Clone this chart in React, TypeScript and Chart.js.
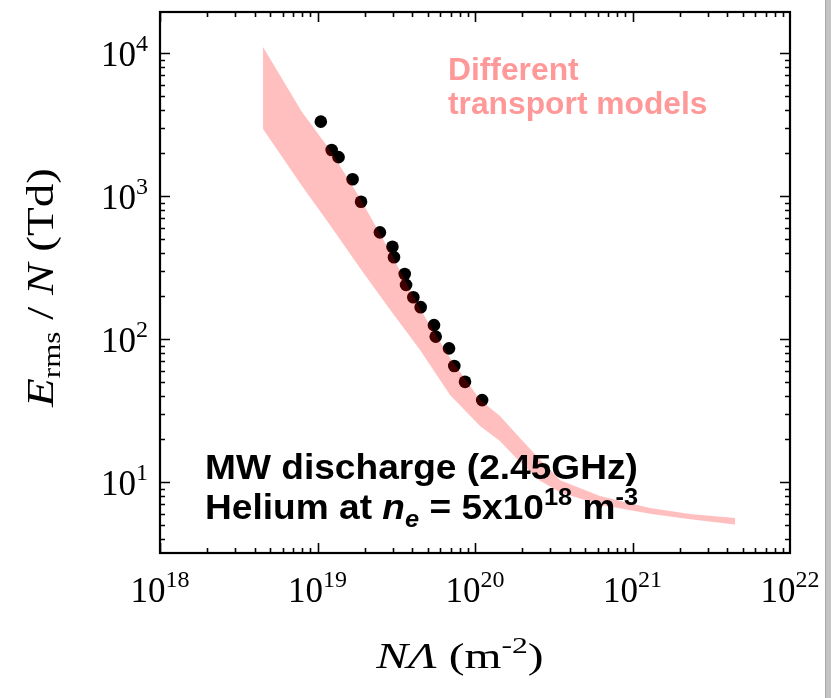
import React, { useEffect, useRef } from 'react';
import { Chart, registerables } from 'chart.js';

Chart.register(...registerables);

// Measured points: N*Lambda (m^-2) vs E_rms/N (Td)
const pointX = [1.05e19, 1.23e19, 1.36e19, 1.67e19, 1.89e19, 2.49e19, 2.99e19, 3.06e19, 3.58e19, 3.65e19, 4.06e19, 4.52e19, 5.49e19, 5.63e19, 6.84e19, 7.39e19, 8.64e19, 1.11e20];
const pointY = [3310, 2100, 1870, 1310, 912, 557, 442, 373, 285, 239, 196, 167, 125, 104, 86, 64.7, 50.2, 37.4];

// Band of different transport models
const bandX = [4.51e18, 7.97e18, 1.2e19, 1.86e19, 2.89e19, 4.48e19, 6.94e19, 1.08e20, 1.44e20, 1.93e20, 2.59e20, 3.47e20, 6.22e20, 1.29e21, 2.32e21, 4.48e21];
const bandUpper = [11000, 3870, 2100, 968, 406, 162, 73.6, 37.4, 29.0, 20.3, 14.3, 10.3, 7.98, 6.58, 5.97, 5.6];
const bandLower = [2940, 1175, 627, 314, 160, 83.8, 40.6, 24.6, 19.4, 13.8, 10.2, 8.5, 6.95, 6.0, 5.5, 5.05];

// Axes
const xMin = 1e18;
const xMax = 1e22;
const yMin = 3.19;
const yMax = 19350;
const xTickExps = [18, 19, 20, 21, 22];
const yTickExps = [1, 2, 3, 4];

type Part = { t: string; font: string; dy?: number };

function drawParts(
  ctx: CanvasRenderingContext2D,
  parts: Part[],
  x: number,
  y: number,
  align: 'left' | 'center' | 'right',
  sx = 1
) {
  let total = 0;
  const widths = parts.map((p) => {
    ctx.font = p.font;
    const w = ctx.measureText(p.t).width;
    total += w;
    return w;
  });
  ctx.save();
  ctx.translate(x, y);
  ctx.scale(sx, 1);
  let cx = align === 'left' ? 0 : align === 'center' ? -total / 2 : -total;
  ctx.textAlign = 'left';
  ctx.textBaseline = 'alphabetic';
  parts.forEach((p, i) => {
    ctx.font = p.font;
    ctx.fillText(p.t, cx, p.dy || 0);
    cx += widths[i];
  });
  ctx.restore();
}

const SERIF = '"Liberation Serif", "Times New Roman", serif';
const SANS = '"Liberation Sans", Arial, sans-serif';

const framePlugin = {
  id: 'framePlugin',
  afterDatasetsDraw(chart: any) {
    const ctx: CanvasRenderingContext2D = chart.ctx;
    const ca = chart.chartArea;
    const xs = chart.scales.x;
    const ys = chart.scales.y;
    ctx.save();

    // annotations
    ctx.fillStyle = '#FF9999';
    const pf = `bold 31px ${SANS}`;
    drawParts(ctx, [{ t: 'Different', font: pf }], ca.left + 288, ca.top + 68, 'left', 1.025);
    drawParts(ctx, [{ t: 'transport models', font: pf }], ca.left + 288, ca.top + 102, 'left', 1.025);

    ctx.fillStyle = '#000';
    const b = `bold 35px ${SANS}`;
    const bs = `bold 24px ${SANS}`;
    const bi = `italic bold 35px ${SANS}`;
    const bis = `italic bold 24px ${SANS}`;
    drawParts(ctx, [{ t: 'MW discharge (2.45GHz)', font: b }], ca.left + 45, ca.top + 467, 'left', 1.06);
    drawParts(ctx, [
      { t: 'Helium at ', font: b },
      { t: 'n', font: bi },
      { t: 'e', font: bis, dy: 8 },
      { t: ' = 5x10', font: b },
      { t: '18', font: bs, dy: -14 },
      { t: ' m', font: b },
      { t: '-3', font: bs, dy: -14 },
    ], ca.left + 45, ca.top + 507, 'left', 1.06);

    // frame
    ctx.strokeStyle = '#000';
    ctx.lineWidth = 2.2;
    ctx.strokeRect(ca.left, ca.top, ca.right - ca.left, ca.bottom - ca.top);

    // ticks
    const major = 10;
    const minor = 5;
    ctx.lineWidth = 1.6;
    ctx.beginPath();
    for (let e = 18; e <= 21; e++) {
      for (let m = 1; m <= 9; m++) {
        const v = m * Math.pow(10, e);
        if (v < xMin || v > xMax) continue;
        const px = Math.round(xs.getPixelForValue(v)) + 0.5;
        const len = m === 1 ? major : minor;
        ctx.moveTo(px, ca.bottom);
        ctx.lineTo(px, ca.bottom - len);
        ctx.moveTo(px, ca.top);
        ctx.lineTo(px, ca.top + len);
      }
    }
    for (let e = 0; e <= 4; e++) {
      for (let m = 1; m <= 9; m++) {
        const v = m * Math.pow(10, e);
        if (v < yMin || v > yMax) continue;
        const py = Math.round(ys.getPixelForValue(v)) + 0.5;
        const len = m === 1 ? major : minor;
        ctx.moveTo(ca.left, py);
        ctx.lineTo(ca.left + len, py);
        ctx.moveTo(ca.right, py);
        ctx.lineTo(ca.right - len, py);
      }
    }
    ctx.stroke();

    // tick labels
    ctx.fillStyle = '#000';
    const tf = `35px ${SERIF}`;
    const tsf = `24px ${SERIF}`;
    xTickExps.forEach((e) => {
      const px = xs.getPixelForValue(Math.pow(10, e));
      drawParts(ctx, [{ t: '10', font: tf }, { t: String(e), font: tsf, dy: -15 }], px, ca.bottom + 49, 'center');
    });
    yTickExps.forEach((e) => {
      const py = ys.getPixelForValue(Math.pow(10, e));
      drawParts(ctx, [{ t: '10', font: tf }, { t: String(e), font: tsf, dy: -15 }], ca.left - 12, py + 13, 'right');
    });

    // axis titles
    const af = `36px ${SERIF}`;
    const aif = `italic 36px ${SERIF}`;
    const asf = `24px ${SERIF}`;
    drawParts(ctx, [
      { t: 'NΛ', font: aif },
      { t: ' (m', font: af },
      { t: '-2', font: asf, dy: -15 },
      { t: ')', font: af },
    ], (ca.left + ca.right) / 2 - 15, ca.bottom + 115, 'center', 1.32);

    const yf = `38px ${SERIF}`;
    const yif = `italic 38px ${SERIF}`;
    const ysf = `25px ${SERIF}`;
    ctx.save();
    ctx.translate(53, (ca.top + ca.bottom) / 2 + 5);
    ctx.rotate(-Math.PI / 2);
    drawParts(ctx, [
      { t: 'E', font: yif },
      { t: 'rms', font: ysf, dy: 7 },
      { t: ' / ', font: yf },
      { t: 'N', font: yif },
      { t: ' (Td)', font: yf },
    ], 0, 0, 'center', 1.24);
    ctx.restore();

    // right-edge grey strip
    ctx.fillStyle = '#c4c4c4';
    ctx.fillRect(825, 0, 6, chart.height);
    ctx.fillStyle = '#a8a8a8';
    ctx.fillRect(825, 0, 1, chart.height);

    ctx.restore();
  },
};

export default function App() {
  const ref = useRef<HTMLCanvasElement | null>(null);
  useEffect(() => {
    if (!ref.current) return;
    const chart = new Chart(ref.current, {
      type: 'line',
      data: {
        datasets: [
          {
            label: 'upper',
            data: bandX.map((x, i) => ({ x, y: bandUpper[i] })),
            borderWidth: 0,
            borderColor: 'rgba(0,0,0,0)',
            backgroundColor: 'rgba(255,0,0,0.25)',
            pointRadius: 0,
            fill: 1,
            tension: 0,
          },
          {
            label: 'lower',
            data: bandX.map((x, i) => ({ x, y: bandLower[i] })),
            borderWidth: 0,
            borderColor: 'rgba(0,0,0,0)',
            pointRadius: 0,
            fill: false,
            tension: 0,
          },
          {
            type: 'scatter',
            label: 'measured',
            data: pointX.map((x, i) => ({ x, y: pointY[i] })),
            backgroundColor: '#000',
            borderWidth: 0,
            pointRadius: 6.3,
            showLine: false,
          } as any,
        ],
      },
      options: {
        animation: false,
        responsive: false,
        devicePixelRatio: 1,
        layout: { padding: { left: 160, right: 41, top: 12, bottom: 145 } },
        plugins: { legend: { display: false }, tooltip: { enabled: false } },
        scales: {
          x: { type: 'logarithmic', min: xMin, max: xMax, display: false },
          y: { type: 'logarithmic', min: yMin, max: yMax, display: false },
        },
      },
      plugins: [framePlugin],
    });
    return () => chart.destroy();
  }, []);
  return (
    <div style={{ position: 'fixed', left: 0, top: 0, width: 831, height: 698, background: '#fff' }}>
      <canvas ref={ref} width={831} height={698} />
    </div>
  );
}
